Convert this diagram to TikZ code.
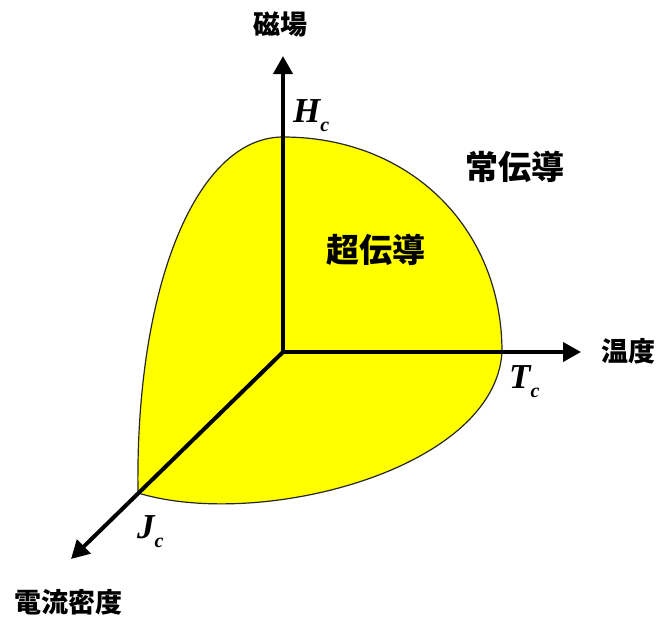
\documentclass[tikz,border=0pt]{standalone}
\usepackage{fontspec}
\setmainfont{Liberation Serif}
\newfontfamily\cjk{Noto Sans CJK JP}
\usetikzlibrary{arrows.meta}
\definecolor{scyellow}{RGB}{255,255,0}
\begin{document}
\begin{tikzpicture}[x=1pt,y=-1pt,
  axis/.style={line width=4pt,-{Triangle[length=18pt,width=19pt]}},
  lbl/.style={font=\cjk\bfseries\fontsize{27}{27}\selectfont,inner sep=0pt},
  region/.style={font=\cjk\bfseries\fontsize{33}{33}\selectfont,inner sep=0pt},
  crit/.style={font=\bfseries\itshape\fontsize{35}{35}\selectfont,inner sep=0pt,anchor=base west}]
\useasboundingbox (0,0) rectangle (662,619);
\coordinate (O) at (283,352);
\coordinate (Hp) at (283,137);
\coordinate (Tp) at (502,352);
\coordinate (Jp) at (138,493);
\coordinate (Htip) at (283,56);
\coordinate (Ttip) at (581,352);
\coordinate (Jtip) at (71,559);
% superconducting region
\filldraw[fill=scyellow,draw=black!85,line width=1.2pt]
  (Hp) .. controls (410,137) and (502,228) .. (Tp)
       .. controls (495,470) and (260,530) .. (Jp)
       .. controls (135,290) and (195,137) .. (Hp) -- cycle;
% axes
\draw[axis] (O) -- (Htip);
\draw[axis] (O) -- (Ttip);
\draw[axis] (O) -- (Jtip);
% labels
\node[lbl] (mag) at (280,24) {磁場};
\node[lbl] (temp) at (628,351) {温度};
\node[lbl] (cur) at (69,602) {電流密度};
\node[region] (normal) at (515,167) {常伝導};
\node[region] (super) at (376,250) {超伝導};
\node[crit] (Hc) at (293,122) {H\raisebox{-9pt}{\fontsize{20}{20}\selectfont c}};
\node[crit] (Tc) at (509,388) {T\raisebox{-9pt}{\fontsize{20}{20}\selectfont c}};
\node[crit] (Jc) at (137,538) {J\raisebox{-9pt}{\fontsize{20}{20}\selectfont c}};
\end{tikzpicture}
\end{document}
